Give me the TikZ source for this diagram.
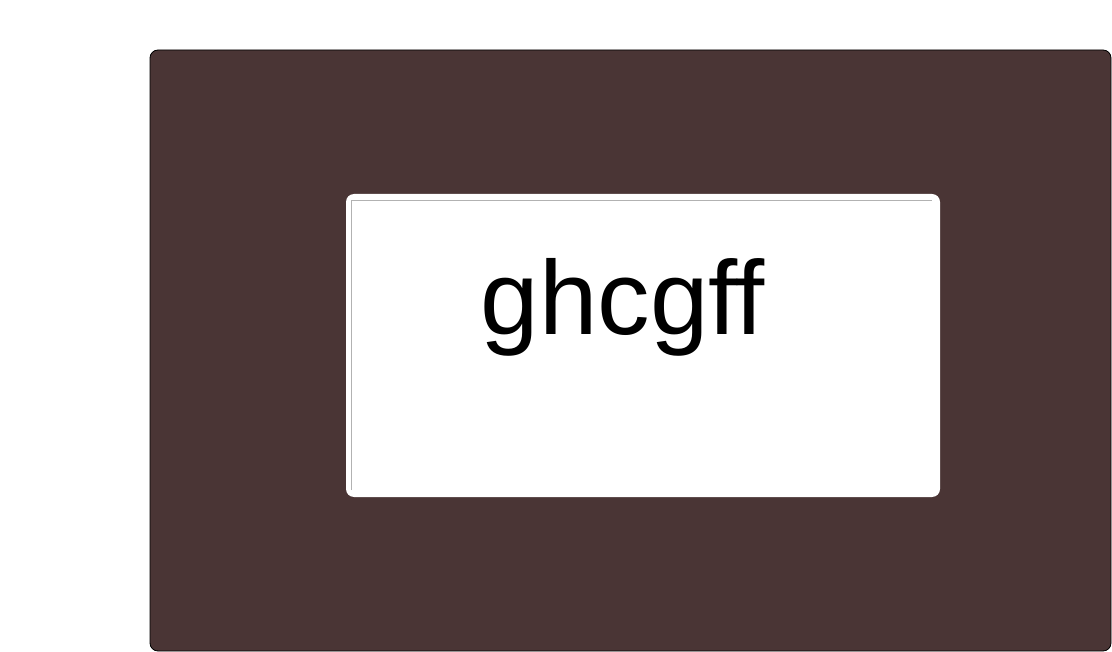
\documentclass[tikz,border=0pt]{standalone}
\usepackage{fontspec}
\setmainfont[Ligatures=CommonOff]{Liberation Sans}
\usetikzlibrary{calc}
\definecolor{framebrown}{RGB}{74,53,53}
\tikzstyle{frame}=[draw=black,fill=framebrown,rounded corners=8pt,line width=0.8pt,inner sep=0pt]
\tikzstyle{panel}=[fill=white,rounded corners=8pt,inner sep=0pt]
\tikzstyle{inset}=[draw=black!30,line width=1.2pt]

\begin{document}
\begin{tikzpicture}[x=1pt,y=-1pt]
\useasboundingbox (0,0) rectangle (1112,652);
\node[frame, minimum width=961pt, minimum height=601pt] (Frame) at (630.5,350.5) {};
\node[panel, minimum width=594pt, minimum height=303pt] (Panel) at (643,345.5) {};
\coordinate (P1) at ($(Panel.south west)+(6,-7)$);
\coordinate (P2) at ($(Panel.north east)+(-8,7)$);
\draw[inset] (P1) |- (P2);
\node[anchor=base, inner sep=0pt, font=\fontsize{105}{126}\selectfont] (Word) at (623,335) {ghcgff};
\end{tikzpicture}
\end{document}
